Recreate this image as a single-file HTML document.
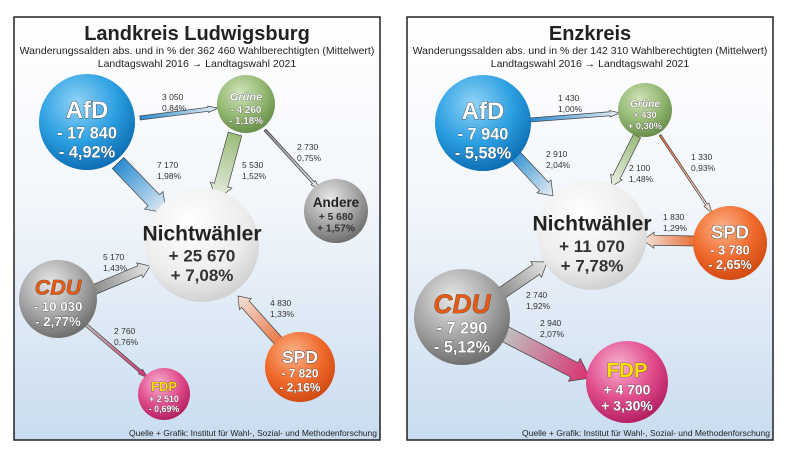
<!DOCTYPE html>
<html><head><meta charset="utf-8"><style>
body{margin:0;background:#fff;width:788px;height:458px;overflow:hidden;font-family:"Liberation Sans",sans-serif}
svg text{font-family:"Liberation Sans",sans-serif}
</style></head><body>
<svg id="s" width="788" height="458" xmlns="http://www.w3.org/2000/svg">
<defs>
<linearGradient id="bg" x1="0" y1="0" x2="0" y2="1"><stop offset="0" stop-color="#ffffff"/><stop offset="0.45" stop-color="#f2f6fb"/><stop offset="1" stop-color="#c9dcef"/></linearGradient>
<radialGradient id="gBlue" cx="0.4" cy="0.3" r="0.7"><stop offset="0" stop-color="#8fd3f7"/><stop offset="0.6" stop-color="#2a9ee0"/><stop offset="1" stop-color="#0f6fb6"/></radialGradient>
<radialGradient id="gGreen" cx="0.4" cy="0.3" r="0.7"><stop offset="0" stop-color="#cfe3b8"/><stop offset="0.6" stop-color="#94b872"/><stop offset="1" stop-color="#6a904c"/></radialGradient>
<radialGradient id="gGrey" cx="0.4" cy="0.3" r="0.7"><stop offset="0" stop-color="#e8e8e8"/><stop offset="0.6" stop-color="#a4a4a4"/><stop offset="1" stop-color="#707070"/></radialGradient>
<radialGradient id="gWhite" cx="0.4" cy="0.3" r="0.7"><stop offset="0" stop-color="#ffffff"/><stop offset="0.7" stop-color="#ececec"/><stop offset="1" stop-color="#d2d2d2"/></radialGradient>
<radialGradient id="gOrange" cx="0.4" cy="0.3" r="0.7"><stop offset="0" stop-color="#fbb48a"/><stop offset="0.6" stop-color="#f06a2c"/><stop offset="1" stop-color="#d24b14"/></radialGradient>
<radialGradient id="gPink" cx="0.4" cy="0.3" r="0.7"><stop offset="0" stop-color="#f7b2d0"/><stop offset="0.6" stop-color="#e04b8c"/><stop offset="1" stop-color="#b62163"/></radialGradient>
<linearGradient id="aBlue" x1="0" y1="0" x2="1" y2="0"><stop offset="0" stop-color="#2a8cd0"/><stop offset="1" stop-color="#e8eef4"/></linearGradient>
<linearGradient id="aGreen" x1="0" y1="0" x2="1" y2="0"><stop offset="0" stop-color="#9bbd7a"/><stop offset="1" stop-color="#e8eee4"/></linearGradient>
<linearGradient id="aGrey" x1="0" y1="0" x2="1" y2="0"><stop offset="0" stop-color="#8a8a8a"/><stop offset="1" stop-color="#e6e6e6"/></linearGradient>
<linearGradient id="aOrange" x1="0" y1="0" x2="1" y2="0"><stop offset="0" stop-color="#e8703a"/><stop offset="1" stop-color="#f4e4dc"/></linearGradient>
<linearGradient id="aPink" x1="0" y1="0" x2="1" y2="0"><stop offset="0" stop-color="#c0c0c0"/><stop offset="1" stop-color="#d8306f"/></linearGradient>
</defs>
</svg>
<script>
const NS="http://www.w3.org/2000/svg";
const svg=document.getElementById('s');
function el(t,a,p){const e=document.createElementNS(NS,t);for(const k in a)e.setAttribute(k,a[k]);(p||svg).appendChild(e);return e;}
function txt(x,y,s,size,opt){opt=opt||{};const t=el('text',{x:x,y:y,'font-size':size,'text-anchor':opt.anchor||'middle','font-weight':opt.bold?'bold':'normal',fill:opt.fill||'#222'});
if(opt.stroke){t.setAttribute('stroke',opt.stroke);t.setAttribute('stroke-width',opt.sw||0.6);t.setAttribute('paint-order','stroke');}
if(opt.italic)t.setAttribute('font-style','italic');
t.textContent=s;return t;}

const panels=[
 {x:14,name:'left-panel',title:'Landkreis Ludwigsburg',sub:'Wanderungssalden abs. und in % der 362 460 Wahlberechtigten (Mittelwert)'},
 {x:407,name:'right-panel',title:'Enzkreis',sub:'Wanderungssalden abs. und in % der 142 310 Wahlberechtigten (Mittelwert)'}];
panels.forEach(p=>{
 const r=el('rect',{x:p.x,y:17,width:366,height:423,fill:'url(#bg)',stroke:'#222','stroke-width':1.5});
 
 const t=txt(p.x+183,40,p.title,20,{bold:true});
 
 const s=txt(p.x+183,54,p.sub,10.5);
 
 const s2=txt(p.x+183,67,'Landtagswahl 2016 → Landtagswahl 2021',10.5);
 
 const q=txt(p.x+363,436,'Quelle + Grafik: Institut für Wahl-, Sozial- und Methodenforschung',8.5,{anchor:'end'});
 
});

const flowFrom=[[140,118],[118,163],[235,134],[265,130],[93,290],[85,324],[282,345],
                [530,120],[512,152],[637,136],[660,135],[694,241],[499,295],[505,334]];
const flowTo=[[218,108],[166,213],[217,200],[320,190],[150,266],[148,378],[238,296],
              [620,113],[553,196],[612,186],[712,213],[643,240],[547,262],[590,378]];
const flowWidth=[4,16,14,2.5,10,3,10,4,12,8,2,10,12,16];
const flowFill=['aBlue','aBlue','aGreen','aGrey','aGrey','aPink','aOrange','aBlue','aBlue','aGreen','aOrange','aOrange','aGrey','aPink'];
const flowAbs=['3 050','7 170','5 530','2 730','5 170','2 760','4 830','1 430','2 910','2 100','1 330','1 830','2 740','2 940'];
const flowPct=['0,84%','1,98%','1,52%','0,75%','1,43%','0,76%','1,33%','1,00%','2,04%','1,48%','0,93%','1,29%','1,92%','2,07%'];
const flowLabelPos=[[162,100],[157,168],[242,168],[297,150],[103,260],[114,334],[270,306],
                    [558,101],[546,157],[629,171],[691,160],[663,220],[526,298],[540,326]];
flowFrom.forEach((a,i)=>{
 const b=flowTo[i],w=flowWidth[i];
 const dx=b[0]-a[0],dy=b[1]-a[1],L=Math.hypot(dx,dy);
 const hl=Math.min(Math.max(w*1.1,10),L*0.45),hw=Math.max(w*1.6,6);
 const g=el('g',{transform:'translate('+a[0]+' '+a[1]+') rotate('+(Math.atan2(dy,dx)*180/Math.PI)+')'});
 
 el('polygon',{points:[[0,-w/2],[L-hl,-w/2],[L-hl,-hw/2],[L,0],[L-hl,hw/2],[L-hl,w/2],[0,w/2]].map(q=>q.join(',')).join(' '),
  fill:'url(#'+flowFill[i]+')',stroke:'#444','stroke-width':0.7},g);
 const p=flowLabelPos[i];
 const t1=txt(p[0],p[1],flowAbs[i],8.5,{anchor:'start',fill:'#333'});
 
 const t2=txt(p[0],p[1]+11,flowPct[i],8.5,{anchor:'start',fill:'#333'});
 
});

const partyNames=['AfD','Grüne','Andere','Nichtwähler','CDU','FDP','SPD','AfD','Grüne','Nichtwähler','SPD','CDU','FDP'];
const partyAbs=['- 17 840','- 4 260','+ 5 680','+ 25 670','- 10 030','+ 2 510','- 7 820','- 7 940','+ 430','+ 11 070','- 3 780','- 7 290','+ 4 700'];
const partyPct=['- 4,92%','- 1,18%','+ 1,57%','+ 7,08%','- 2,77%','- 0,69%','- 2,16%','- 5,58%','+ 0,30%','+ 7,78%','- 2,65%','- 5,12%','+ 3,30%'];
const partyCenter=[[87,122],[246,104],[336,211],[202,245],[58,299],[164,394],[300,367],[483,123],[645,110],[592,235],[730,243],[462,317],[627,382]];
const partyR=[48,29,32,57,39,26,35,48,27,55,37,48,41];
const partyFill=['gBlue','gGreen','gGrey','gWhite','gGrey','gPink','gOrange','gBlue','gGreen','gWhite','gOrange','gGrey','gPink'];
partyCenter.forEach((c,i)=>{
 const r=partyR[i],n=partyNames[i];
 const circ=el('circle',{cx:c[0],cy:c[1],r:r,fill:'url(#'+partyFill[i]+')'});
 
 let ns=r*0.5,vs=r*0.34,opt={bold:true,fill:'#fff',stroke:'#333',sw:0.8},vf={bold:true,fill:'#fff',stroke:'#333',sw:0.5};
 if(n==='Nichtwähler'){ns=21;vs=17;opt={bold:true,fill:'#222'};vf={bold:true,fill:'#333'};}
 if(n==='Andere'){ns=r*0.42;opt={bold:true,fill:'#222'};vf={bold:true,fill:'#333'};vs=r*0.32;}
 if(n==='CDU'){opt={bold:true,italic:true,fill:'#e85a14',stroke:'#333',sw:0.6};ns=r*0.55;vf={bold:true,fill:'#fff',stroke:'#333',sw:0.6};}
 if(n==='FDP'){opt={bold:true,fill:'#ffe000',stroke:'#333',sw:0.6};ns=r*0.5;}
 if(n==='Grüne'){ns=r*0.38;opt={bold:true,italic:true,fill:'#fff',stroke:'#555',sw:0.6};}
 const big=r>45;
 const ny=c[1]-(big?r*0.08:r*0.12), y1=ny+vs*1.25, y2=y1+vs*1.15;
 const t=txt(c[0],ny,n,ns,opt);
 
 const a=txt(c[0],y1,partyAbs[i],vs,vf);
 const b=txt(c[0],y2,partyPct[i],vs,vf);
});
</script>
</body></html>
